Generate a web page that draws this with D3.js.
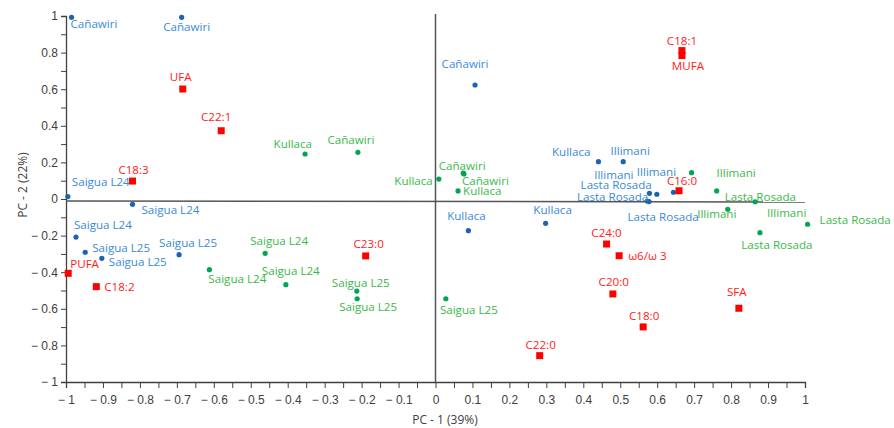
<!DOCTYPE html>
<html><head><meta charset="utf-8">
<script src="https://cdn.jsdelivr.net/npm/d3@7"></script>
<style>
html,body{margin:0;padding:0;background:#fff;}
svg{display:block;font-family:"Open Sans",sans-serif;}
</style></head>
<body><svg id="c" width="894" height="428"></svg>
<script>
// ---- data ----
const blueLabels = ["Cañawiri","Cañawiri","Cañawiri","Saigua L24","Saigua L24","Saigua L24","Saigua L25","Saigua L25","Saigua L25","Kullaca","Kullaca","Kullaca","Illimani","Illimani","Illimani","Lasta Rosada","Lasta Rosada","Lasta Rosada"];
const blueX = [-0.985,-0.687,0.107,-0.995,-0.820,-0.973,-0.948,-0.903,-0.694,0.089,0.298,0.441,0.508,0.579,0.644,0.599,0.573,0.578];
const blueY = [0.993,0.993,0.623,0.013,-0.029,-0.208,-0.291,-0.324,-0.304,-0.173,-0.133,0.204,0.204,0.031,0.037,0.026,-0.011,-0.014];

const greenLabels = ["Kullaca","Cañawiri","Kullaca","Cañawiri","Cañawiri","Kullaca","Saigua L24","Saigua L24","Saigua L24","Saigua L25","Saigua L25","Saigua L25","Illimani","Lasta Rosada","Illimani","Illimani","Lasta Rosada","Lasta Rosada"];
const greenX = [-0.353,-0.210,0.009,0.075,0.077,0.061,-0.612,-0.461,-0.405,-0.213,-0.212,0.028,0.693,0.761,0.791,0.865,1.007,0.878];
const greenY = [0.246,0.255,0.109,0.142,0.137,0.044,-0.386,-0.297,-0.468,-0.503,-0.545,-0.545,0.144,0.044,-0.056,-0.015,-0.138,-0.184];

const redLabels = ["UFA","C22:1","C18:3","PUFA","C18:2","C23:0","C22:0","C24:0","ω6/ω 3","C20:0","C18:0","SFA","C18:1","MUFA","C16:0"];
const redX = [-0.684,-0.580,-0.820,-0.994,-0.918,-0.189,0.282,0.463,0.497,0.480,0.562,0.821,0.667,0.667,0.659];
const redY = [0.601,0.373,0.098,-0.406,-0.479,-0.311,-0.856,-0.246,-0.310,-0.519,-0.699,-0.597,0.811,0.784,0.045];

const xTicks = [-1,-0.9,-0.8,-0.7,-0.6,-0.5,-0.4,-0.3,-0.2,-0.1,0,0.1,0.2,0.3,0.4,0.5,0.6,0.7,0.8,0.9,1];
const yTicks = [-1,-0.8,-0.6,-0.4,-0.2,0,0.2,0.4,0.6,0.8,1];
const xTitle = "PC - 1 (39%)";
const yTitle = "PC - 2 (22%)";

// ---- label placement (layout, pixel offsets: anchor, dx, dy) ----
const bluePlace = [["start",-1,11],["middle",5,14],["middle",-10,-17],["start",4,-11],["start",9,10],["start",-2,-8],["start",7,0],["start",7,8],["middle",9,-8],["middle",-2,-11],["middle",7,-9],["end",-8,-6],["middle",7,-7],["end",-16,-14],["middle",-17,-16],["end",-5,-5],["end",1,0],["middle",14,19]];
const greenPlace = [["end",7,-6],["middle",-7,-8],["end",-6,6],["middle",-1,-3],["start",-2,11],["start",5,4],["start",-1,13],["start",-15,-8],["start",-24,-10],["middle",4,-4],["middle",11,12],["middle",23,15],["start",25,4],["start",8,10],["middle",-11,9],["start",12,15],["start",12,0],["middle",17,16]];
const redPlace = [["middle",-2,-8],["middle",-5,-10],["middle",1,-7],["start",2,-5],["start",8,4],["middle",3,-8],["middle",1,-7],["end",15,-7],["start",9,4],["end",16,-8],["middle",1,-7],["middle",-2,-12],["middle",0,-6],["middle",6,14],["middle",3,-6]];

// ---- drawing ----
const svg = d3.select("#c");
const x = d3.scaleLinear().domain([-1,1]).range([66,805]);
const y = d3.scaleLinear().domain([-1,1]).range([382,16]);
const axisColor = "#404040";

const fmt = v => v < 0 ? "\u2212 " + d3.format("")(Math.abs(v)) : d3.format("")(v);

// x axis
const xAxis = d3.axisBottom(x).tickValues(d3.range(-20,21).map(i=>i/20)).tickSize(6)
  .tickFormat(v => xTicks.some(t=>Math.abs(t-v)<1e-9) ? fmt(v) : "");
const gx = svg.append("g").attr("transform",`translate(0,${y(-1)})`).call(xAxis);
gx.select(".domain").attr("stroke",axisColor).attr("stroke-width",1.3);
gx.selectAll(".tick line").attr("stroke",axisColor).attr("stroke-width",1);
gx.selectAll("text").attr("fill",axisColor).attr("font-size",12).attr("dy","1.05em");

// y axis
const yAxis = d3.axisLeft(y).tickValues(d3.range(-10,11).map(i=>i/10)).tickSize(5)
  .tickFormat(v => yTicks.some(t=>Math.abs(t-v)<1e-9) ? fmt(v) : "");
const gy = svg.append("g").attr("transform",`translate(${x(-1)},0)`).call(yAxis);
gy.select(".domain").attr("stroke",axisColor).attr("stroke-width",1.3);
gy.selectAll(".tick line").attr("stroke",axisColor).attr("stroke-width",1);
gy.selectAll("text").attr("fill",axisColor).attr("font-size",12).attr("x",-8);

// zero lines
svg.append("line").attr("x1",x(-1)).attr("x2",x(1)).attr("y1",y(0)+2).attr("y2",y(0)+3)
  .attr("stroke","#555").attr("stroke-width",1.5);
svg.append("line").attr("x1",x(0)).attr("x2",x(0)).attr("y1",y(1)-2).attr("y2",y(-1))
  .attr("stroke","#555").attr("stroke-width",1.5);

// titles
svg.append("text").attr("x",445).attr("y",424).attr("text-anchor","middle")
  .attr("font-size",12).attr("fill",axisColor).text(xTitle);
svg.append("text").attr("transform",`translate(27,${y(0)-14}) rotate(-90)`).attr("text-anchor","middle")
  .attr("font-size",12).attr("fill",axisColor).text(yTitle);

function series(xs, ys, labels, place, dotColor, textColor, square){
  const data = xs.map((v,i)=>({x:v,y:ys[i],label:labels[i],p:place[i]}));
  const g = svg.append("g");
  if (square){
    g.selectAll("rect").data(data).join("rect")
      .attr("x",d=>x(d.x)-3.5).attr("y",d=>y(d.y)-3.5).attr("width",7).attr("height",7).attr("fill",dotColor);
  } else {
    g.selectAll("circle").data(data).join("circle")
      .attr("cx",d=>x(d.x)).attr("cy",d=>y(d.y)).attr("r",2.6).attr("fill",dotColor);
  }
  g.selectAll("text").data(data).join("text")
    .attr("x",d=>x(d.x)+d.p[1]).attr("y",d=>y(d.y)+d.p[2]).attr("text-anchor",d=>d.p[0])
    .attr("font-size",11.6).attr("fill",textColor).text(d=>d.label);
}
series(greenX, greenY, greenLabels, greenPlace, "#00a651", "#3cb84a", false);
series(blueX, blueY, blueLabels, bluePlace, "#1c63b8", "#3a8ad6", false);
series(redX, redY, redLabels, redPlace, "#ff0000", "#ff1a1a", true);
</script>
</body></html>
